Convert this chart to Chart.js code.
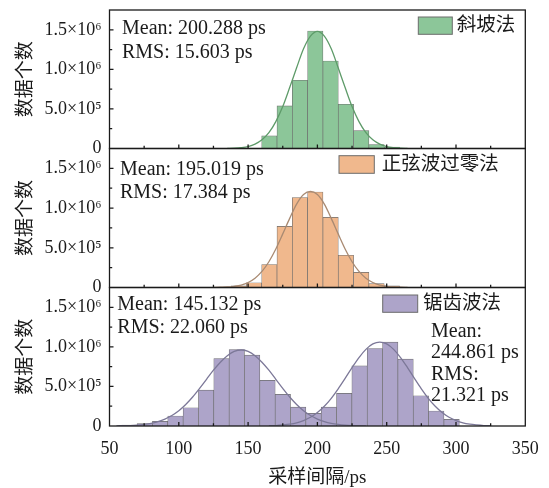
<!DOCTYPE html>
<html>
<head>
<meta charset="utf-8">
<script src="https://cdn.jsdelivr.net/npm/chart.js@4.4.1/dist/chart.umd.min.js"></script>
<style>
  html, body { margin: 0; padding: 0; background: #fff; }
  #wrap { position: relative; width: 549px; height: 488px; overflow: hidden; background: #fff; }
  #wrap canvas { position: absolute; left: 0; }
</style>
</head>
<body>
<div id="wrap">
  <canvas id="c1" width="549" height="160" style="top:0px;width:549px;height:160px"></canvas>
  <canvas id="c2" width="549" height="160" style="top:140px;width:549px;height:160px"></canvas>
  <canvas id="c3" width="549" height="208" style="top:280px;width:549px;height:208px"></canvas>
</div>
<script>
// ---- axes ----
const xMin = 50, xMax = 350, xStep = 25, xLabelStep = 50;
const yMin = 0, yMax = 1750000, yStep = 250000, yLabelStep = 500000;
const yTickText = { 0: '0', 500000: '5.0×10⁵', 1000000: '1.0×10⁶', 1500000: '1.5×10⁶' };
const yTitle = '数据个数';
const xTitle = '采样间隔/ps';

// ---- 斜坡法 ----
const rampName = '斜坡法';
const rampBins = [165.33, 176.38, 187.43, 198.48, 209.53, 220.58, 231.63, 242.68, 253.73];
const rampCounts = [160000, 538000, 862000, 1484000, 1105000, 559000, 225000, 50000, 19000];
const rampFitX = [135, 140, 145, 150, 155, 160, 165, 170, 175, 180, 185, 190, 195, 200, 205, 210, 215, 220, 225, 230, 235, 240, 245, 250, 255, 260, 265];
const rampFitY = [1000, 4000, 11000, 25000, 55000, 110000, 200000, 340000, 530000, 770000, 1020000, 1260000, 1420000, 1480000, 1420000, 1260000, 1020000, 770000, 530000, 340000, 200000, 110000, 55000, 25000, 11000, 4000, 1000];
const rampMean = 200.288, rampRms = 15.603;

// ---- 正弦波过零法 ----
const zeroName = '正弦波过零法';
const zeroBins = [143.23, 154.28, 165.33, 176.38, 187.43, 198.48, 209.53, 220.58, 231.63, 242.68, 253.73];
const zeroCounts = [20000, 60000, 290000, 770000, 1133000, 1202000, 883000, 406000, 191000, 48000, 21000];
const zeroFitX = [125, 130, 135, 140, 145, 150, 155, 160, 165, 170, 175, 180, 185, 190, 195, 200, 205, 210, 215, 220, 225, 230, 235, 240, 245, 250, 255, 260, 265];
const zeroFitY = [1000, 3000, 6000, 15000, 31000, 63000, 117000, 202000, 324000, 485000, 675000, 870000, 1050000, 1170000, 1210000, 1170000, 1050000, 870000, 675000, 485000, 324000, 202000, 117000, 63000, 31000, 15000, 6000, 3000, 1000];
const zeroMean = 195.019, zeroRms = 17.384;

// ---- 锯齿波法 ----
const sawName = '锯齿波法';
const sawBins = [64.37, 75.44, 86.51, 97.58, 108.65, 119.72, 130.79, 141.86, 152.93, 164.00, 175.07, 186.14, 197.21, 208.28, 219.35, 230.42, 241.49, 252.56, 263.63, 274.70, 285.77, 296.84];
const sawCounts = [12000, 29000, 59000, 126000, 231000, 454000, 853000, 966000, 895000, 576000, 399000, 239000, 160000, 239000, 412000, 760000, 979000, 1059000, 845000, 382000, 189000, 84000];
const sawFitAX = [55, 60, 65, 70, 75, 80, 85, 90, 95, 100, 105, 110, 115, 120, 125, 130, 135, 140, 145, 150, 155, 160, 165, 170, 175, 180, 185, 190, 195, 200, 205, 210, 215, 220, 225, 230, 235];
const sawFitAY = [2000, 4000, 6000, 11000, 20000, 34000, 56000, 88000, 133000, 193000, 272000, 366000, 475000, 590000, 705000, 806000, 889000, 942000, 960000, 942000, 889000, 806000, 705000, 590000, 475000, 366000, 272000, 193000, 133000, 88000, 56000, 34000, 20000, 11000, 6000, 4000, 2000];
const sawFitBX = [165, 170, 175, 180, 185, 190, 195, 200, 205, 210, 215, 220, 225, 230, 235, 240, 245, 250, 255, 260, 265, 270, 275, 280, 285, 290, 295, 300, 305, 310, 315, 320, 325];
const sawFitBY = [3000, 6000, 13000, 23000, 40000, 69000, 110000, 170000, 249000, 350000, 470000, 602000, 738000, 865000, 968000, 1037000, 1060000, 1037000, 968000, 865000, 738000, 602000, 470000, 350000, 249000, 170000, 110000, 69000, 40000, 23000, 13000, 6000, 3000];
const sawMeanA = 145.132, sawRmsA = 22.060;
const sawMeanB = 244.861, sawRmsB = 21.321;

// ---- styling ----
const INK = '#1a1a1a';
const SERIF = '"Liberation Serif", "Times New Roman", serif';
const MIXED = '"Liberation Serif", "Noto Sans CJK SC", serif';
const CJK = '"Noto Sans CJK SC", sans-serif';
const BAR_EDGE = '#6c6c6c';
const AXIS_LEFT = 109.5, AXIS_RIGHT = 525.3, CANVAS_W = 549;

const fmt = v => v.toFixed(3) + ' ps';
const pts = (xs, ys) => xs.map((x, i) => ({ x, y: ys[i] }));

// frame, inward tick marks, statistics text and legend key
const panelDecor = {
  id: 'panelDecor',
  afterDraw(chart, args, opts) {
    const { ctx, chartArea: a, scales: { x, y } } = chart;
    ctx.save();
    ctx.strokeStyle = INK;
    ctx.lineWidth = 1.3;
    ctx.beginPath();
    x.ticks.forEach(t => {
      if (t.value <= xMin || t.value >= xMax) return;
      const px = x.getPixelForValue(t.value);
      const len = t.value % xLabelStep === 0 ? 4 : 2.7;
      ctx.moveTo(px, a.bottom);
      ctx.lineTo(px, a.bottom - len);
    });
    y.ticks.forEach(t => {
      if (t.value <= yMin || t.value >= yMax) return;
      const py = y.getPixelForValue(t.value);
      const len = t.value % yLabelStep === 0 ? 4 : 2.7;
      ctx.moveTo(a.left, py);
      ctx.lineTo(a.left + len, py);
    });
    ctx.stroke();
    ctx.strokeRect(a.left, a.top, a.right - a.left, a.bottom - a.top);

    // statistics
    ctx.fillStyle = INK;
    ctx.font = '20px ' + SERIF;
    ctx.textAlign = 'left';
    ctx.textBaseline = 'alphabetic';
    opts.lines.forEach(l => ctx.fillText(l.text, a.left + l.dx, a.top + l.dy));

    // legend key
    const bars = chart.data.datasets.find(d => d.type === 'bar');
    const k = opts.key;
    ctx.fillStyle = bars.backgroundColor;
    ctx.fillRect(a.left + k.dx, a.top + k.dy, k.w, k.h);
    ctx.strokeStyle = BAR_EDGE;
    ctx.lineWidth = 1;
    ctx.strokeRect(a.left + k.dx, a.top + k.dy, k.w, k.h);
    ctx.fillStyle = INK;
    ctx.font = '19.5px ' + MIXED;
    ctx.textBaseline = 'middle';
    ctx.fillText(bars.label, a.left + k.tx, a.top + k.dy + k.h / 2);
    ctx.restore();
  }
};

function makePanel(id, cfg) {
  const barSet = {
    type: 'bar',
    label: cfg.name,
    data: pts(cfg.bins, cfg.counts),
    backgroundColor: cfg.fill,
    borderColor: BAR_EDGE,
    borderWidth: 0.65,
    borderSkipped: 'start',
    barPercentage: 1,
    categoryPercentage: 1,
    order: 2
  };
  const fitSets = cfg.fits.map(f => ({
    type: 'line',
    label: cfg.name + ' fit',
    data: pts(f[0], f[1]),
    borderColor: cfg.curve,
    borderWidth: 1.3,
    pointRadius: 0,
    fill: false,
    cubicInterpolationMode: 'monotone',
    order: 1
  }));

  return new Chart(document.getElementById(id), {
    type: 'bar',
    data: { datasets: [barSet, ...fitSets] },
    plugins: [panelDecor],
    options: {
      responsive: false,
      animation: false,
      devicePixelRatio: 1,
      layout: { padding: { left: 0, right: CANVAS_W - AXIS_RIGHT, top: cfg.padTop, bottom: cfg.padBottom } },
      plugins: {
        legend: { display: false },
        tooltip: { enabled: false },
        panelDecor: { lines: cfg.lines, key: cfg.key }
      },
      scales: {
        x: {
          type: 'linear',
          min: xMin, max: xMax,
          offset: false,
          display: cfg.bottom,
          grid: { display: false, drawTicks: false, offset: false },
          border: { display: false },
          ticks: {
            stepSize: xStep,
            autoSkip: false,
            maxRotation: 0,
            padding: 12.5,
            color: INK,
            font: { family: SERIF, size: 18 },
            callback: v => (v % xLabelStep === 0 ? String(v) : '')
          },
          title: {
            display: true,
            text: xTitle,
            color: INK,
            font: { family: MIXED, size: 19, lineHeight: 1 },
            padding: { top: 0, bottom: 0 }
          },
          afterFit: s => {
            s.height = cfg.bottom ? 62 : 0;
            s.paddingLeft = 0; s.paddingRight = 0; s.paddingTop = 0; s.paddingBottom = 0;
          }
        },
        y: {
          type: 'linear',
          min: yMin, max: yMax,
          grid: { display: false, drawTicks: false },
          border: { display: false },
          ticks: {
            stepSize: yStep,
            autoSkip: false,
            padding: 8,
            color: INK,
            font: { family: SERIF, size: 18 },
            callback: v => (yTickText[v] !== undefined ? yTickText[v] : '')
          },
          title: {
            display: true,
            text: yTitle,
            color: INK,
            font: { family: CJK, size: 19, lineHeight: 1 },
            padding: { top: 14.5, bottom: 0 }
          },
          afterFit: s => {
            s.width = AXIS_LEFT;
            s.paddingLeft = 0; s.paddingRight = 0; s.paddingTop = 0; s.paddingBottom = 0;
          }
        }
      }
    }
  });
}

makePanel('c1', {
  name: rampName, bins: rampBins, counts: rampCounts,
  fits: [[rampFitX, rampFitY]],
  fill: '#8cc699', curve: '#5e9b69',
  bottom: false, padTop: 10, padBottom: 11.5,
  lines: [
    { text: 'Mean: ' + fmt(rampMean), dx: 12.5, dy: 24.3 },
    { text: 'RMS: ' + fmt(rampRms), dx: 12.5, dy: 48.3 }
  ],
  key: { dx: 308.8, dy: 7, w: 34, h: 17.3, tx: 347.2 }
});

makePanel('c2', {
  name: zeroName, bins: zeroBins, counts: zeroCounts,
  fits: [[zeroFitX, zeroFitY]],
  fill: '#f0b88d', curve: '#a98a72',
  bottom: false, padTop: 8.5, padBottom: 12.5,
  lines: [
    { text: 'Mean: ' + fmt(zeroMean), dx: 10.5, dy: 26.5 },
    { text: 'RMS: ' + fmt(zeroRms), dx: 10.5, dy: 49.8 }
  ],
  key: { dx: 229.5, dy: 7.2, w: 35.3, h: 17.6, tx: 272.2 }
});

makePanel('c3', {
  name: sawName, bins: sawBins, counts: sawCounts,
  fits: [[sawFitAX, sawFitAY], [sawFitBX, sawFitBY]],
  fill: '#ada4c9', curve: '#7c7898',
  bottom: true, padTop: 7.5, padBottom: 0,
  lines: [
    { text: 'Mean: ' + fmt(sawMeanA), dx: 7.8, dy: 22.5 },
    { text: 'RMS: ' + fmt(sawRmsA), dx: 7.8, dy: 45.5 },
    { text: 'Mean:', dx: 321.5, dy: 49.5 },
    { text: fmt(sawMeanB), dx: 321.5, dy: 70.8 },
    { text: 'RMS:', dx: 321.5, dy: 92.5 },
    { text: fmt(sawRmsB), dx: 321.5, dy: 113.2 }
  ],
  key: { dx: 273.2, dy: 7.5, w: 35, h: 17.3, tx: 313.5 }
});
</script>
</body>
</html>
